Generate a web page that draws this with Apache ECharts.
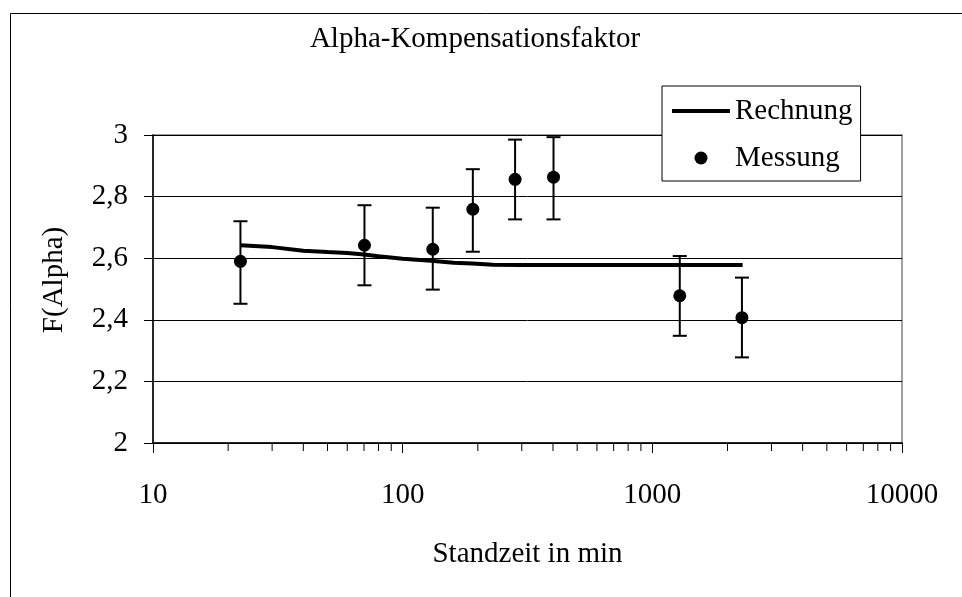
<!DOCTYPE html>
<html>
<head>
<meta charset="utf-8">
<script src="https://cdn.jsdelivr.net/npm/echarts@6/dist/echarts.min.js"></script>
<style>
  html, body { margin: 0; padding: 0; background: #fff; }
  #chart { width: 962px; height: 597px; }
</style>
</head>
<body>
<div id="chart"></div>
<script>
// Messung (Standzeit in min, F(Alpha), Fehlerbalken)
const measX = [22.4, 70.3, 132, 191, 282, 402, 1288, 2285]
const measY = [2.59, 2.642, 2.629, 2.759, 2.856, 2.863, 2.478, 2.407]
const errLow = [2.452, 2.512, 2.498, 2.621, 2.726, 2.726, 2.348, 2.278]
const errHigh = [2.72, 2.772, 2.764, 2.889, 2.985, 2.993, 2.607, 2.537]

// Rechnung
const calcX = [22.4, 30, 40, 50, 60, 70, 80, 100, 130, 160, 190, 230, 300, 500, 1000, 2300]
const calcY = [2.642, 2.636, 2.624, 2.62, 2.617, 2.612, 2.606, 2.598, 2.592, 2.585, 2.583, 2.579, 2.578, 2.578, 2.578, 2.578]

// log-axis minor ticks
const minorTicks = [20, 30, 40, 50, 60, 70, 80, 90, 200, 300, 400, 500, 600, 700, 800, 900, 2000, 3000, 4000, 5000, 6000, 7000, 8000, 9000]

const font = "'Liberation Serif', 'Times New Roman', serif"

const myE = echarts.init(document.getElementById("chart"))
let option = {
  animation: false,
  backgroundColor: "#fff",
  textStyle: { fontFamily: font, color: "#000" },
  title: {
    text: "Alpha-Kompensationsfaktor",
    left: 470,
    top: 20,
    textAlign: "center",
    textStyle: { fontFamily: font, fontSize: 29, fontWeight: "normal", color: "#000" },
  },
  graphic: [
    {
      type: "rect",
      left: 8,
      top: 11,
      shape: { width: 1000, height: 1000 },
      style: { fill: "none", stroke: "#000", lineWidth: 1 },
      silent: true,
      z: -1,
    },
  ],
  legend: {
    orient: "vertical",
    left: 662,
    top: 86,
    padding: [10, 8, 8, 10],
    itemGap: 17,
    itemWidth: 58,
    itemHeight: 13,
    borderColor: "#000",
    borderWidth: 1,
    backgroundColor: "#fff",
    textStyle: { fontFamily: font, fontSize: 29, color: "#000", lineHeight: 30 },
    data: [
      { name: "Rechnung", icon: "path://M0,0L58,0L58,4L0,4Z" },
      { name: "Messung", icon: "circle" },
    ],
  },
  grid: {
    left: 153,
    right: 60,
    top: 135,
    bottom: 154,
    show: true,
    borderColor: "#a0a0a0",
    borderWidth: 2,
    backgroundColor: "#fff",
  },
  xAxis: {
    type: "log",
    logBase: 10,
    min: 10,
    max: 10000,
    name: "Standzeit in min",
    nameLocation: "middle",
    nameGap: 97,
    nameTextStyle: { fontFamily: font, fontSize: 29, color: "#000" },
    axisLine: { lineStyle: { color: "#000", width: 1.5 } },
    axisTick: { inside: false, length: 10, lineStyle: { color: "#000" } },
    axisLabel: {
      margin: 38,
      fontFamily: font,
      fontSize: 29,
      color: "#000",
      formatter: (v) => String(Math.round(v)),
    },
    splitLine: { show: false },
  },
  yAxis: {
    type: "value",
    min: 2,
    max: 3,
    interval: 0.2,
    name: "F(Alpha)",
    nameLocation: "middle",
    nameGap: 84,
    nameTextStyle: { fontFamily: font, fontSize: 29, color: "#000", padding: [0, 0, 0, 18] },
    axisLine: { show: true, lineStyle: { color: "#000", width: 1.5 } },
    axisTick: { show: true, inside: false, length: 9, lineStyle: { color: "#000" } },
    axisLabel: {
      margin: 25,
      fontFamily: font,
      fontSize: 29,
      color: "#000",
      formatter: (v) => String(+v.toFixed(1)).replace(".", ","),
    },
    splitLine: { show: true, lineStyle: { color: "#000", width: 1 } },
  },
  series: [
    {
      name: "Rechnung",
      type: "line",
      symbol: "none",
      color: "#000",
      lineStyle: { color: "#000", width: 4 },
      data: calcX.map((x, i) => [x, calcY[i]]),
      z: 3,
    },
    {
      name: "Fehler",
      type: "custom",
      silent: true,
      renderItem: (params, api) => {
        const lo = api.coord([api.value(0), api.value(1)])
        const hi = api.coord([api.value(0), api.value(2)])
        const w = 7
        const st = { stroke: "#000", lineWidth: 2 }
        return {
          type: "group",
          children: [
            { type: "line", shape: { x1: lo[0], y1: lo[1], x2: hi[0], y2: hi[1] }, style: st },
            { type: "line", shape: { x1: lo[0] - w, y1: lo[1], x2: lo[0] + w, y2: lo[1] }, style: st },
            { type: "line", shape: { x1: hi[0] - w, y1: hi[1], x2: hi[0] + w, y2: hi[1] }, style: st },
          ],
        }
      },
      data: measX.map((x, i) => [x, errLow[i], errHigh[i]]),
      z: 4,
    },
    {
      name: "Messung",
      type: "scatter",
      symbol: "circle",
      symbolSize: 13,
      color: "#000",
      itemStyle: { color: "#000", opacity: 1 },
      data: measX.map((x, i) => [x, measY[i]]),
      z: 5,
    },
    {
      name: "minor",
      type: "custom",
      silent: true,
      clip: false,
      renderItem: (params, api) => {
        const p = api.coord([api.value(0), api.value(1)])
        return {
          type: "line",
          shape: { x1: p[0], y1: p[1], x2: p[0], y2: p[1] + 8 },
          style: { stroke: "#000", lineWidth: 1 },
        }
      },
      data: minorTicks.map((x) => [x, 2]),
      z: 2,
    },
  ],
}
myE.setOption(option)
window.addEventListener("resize", () => {
  myE.resize()
})
</script>
</body>
</html>
